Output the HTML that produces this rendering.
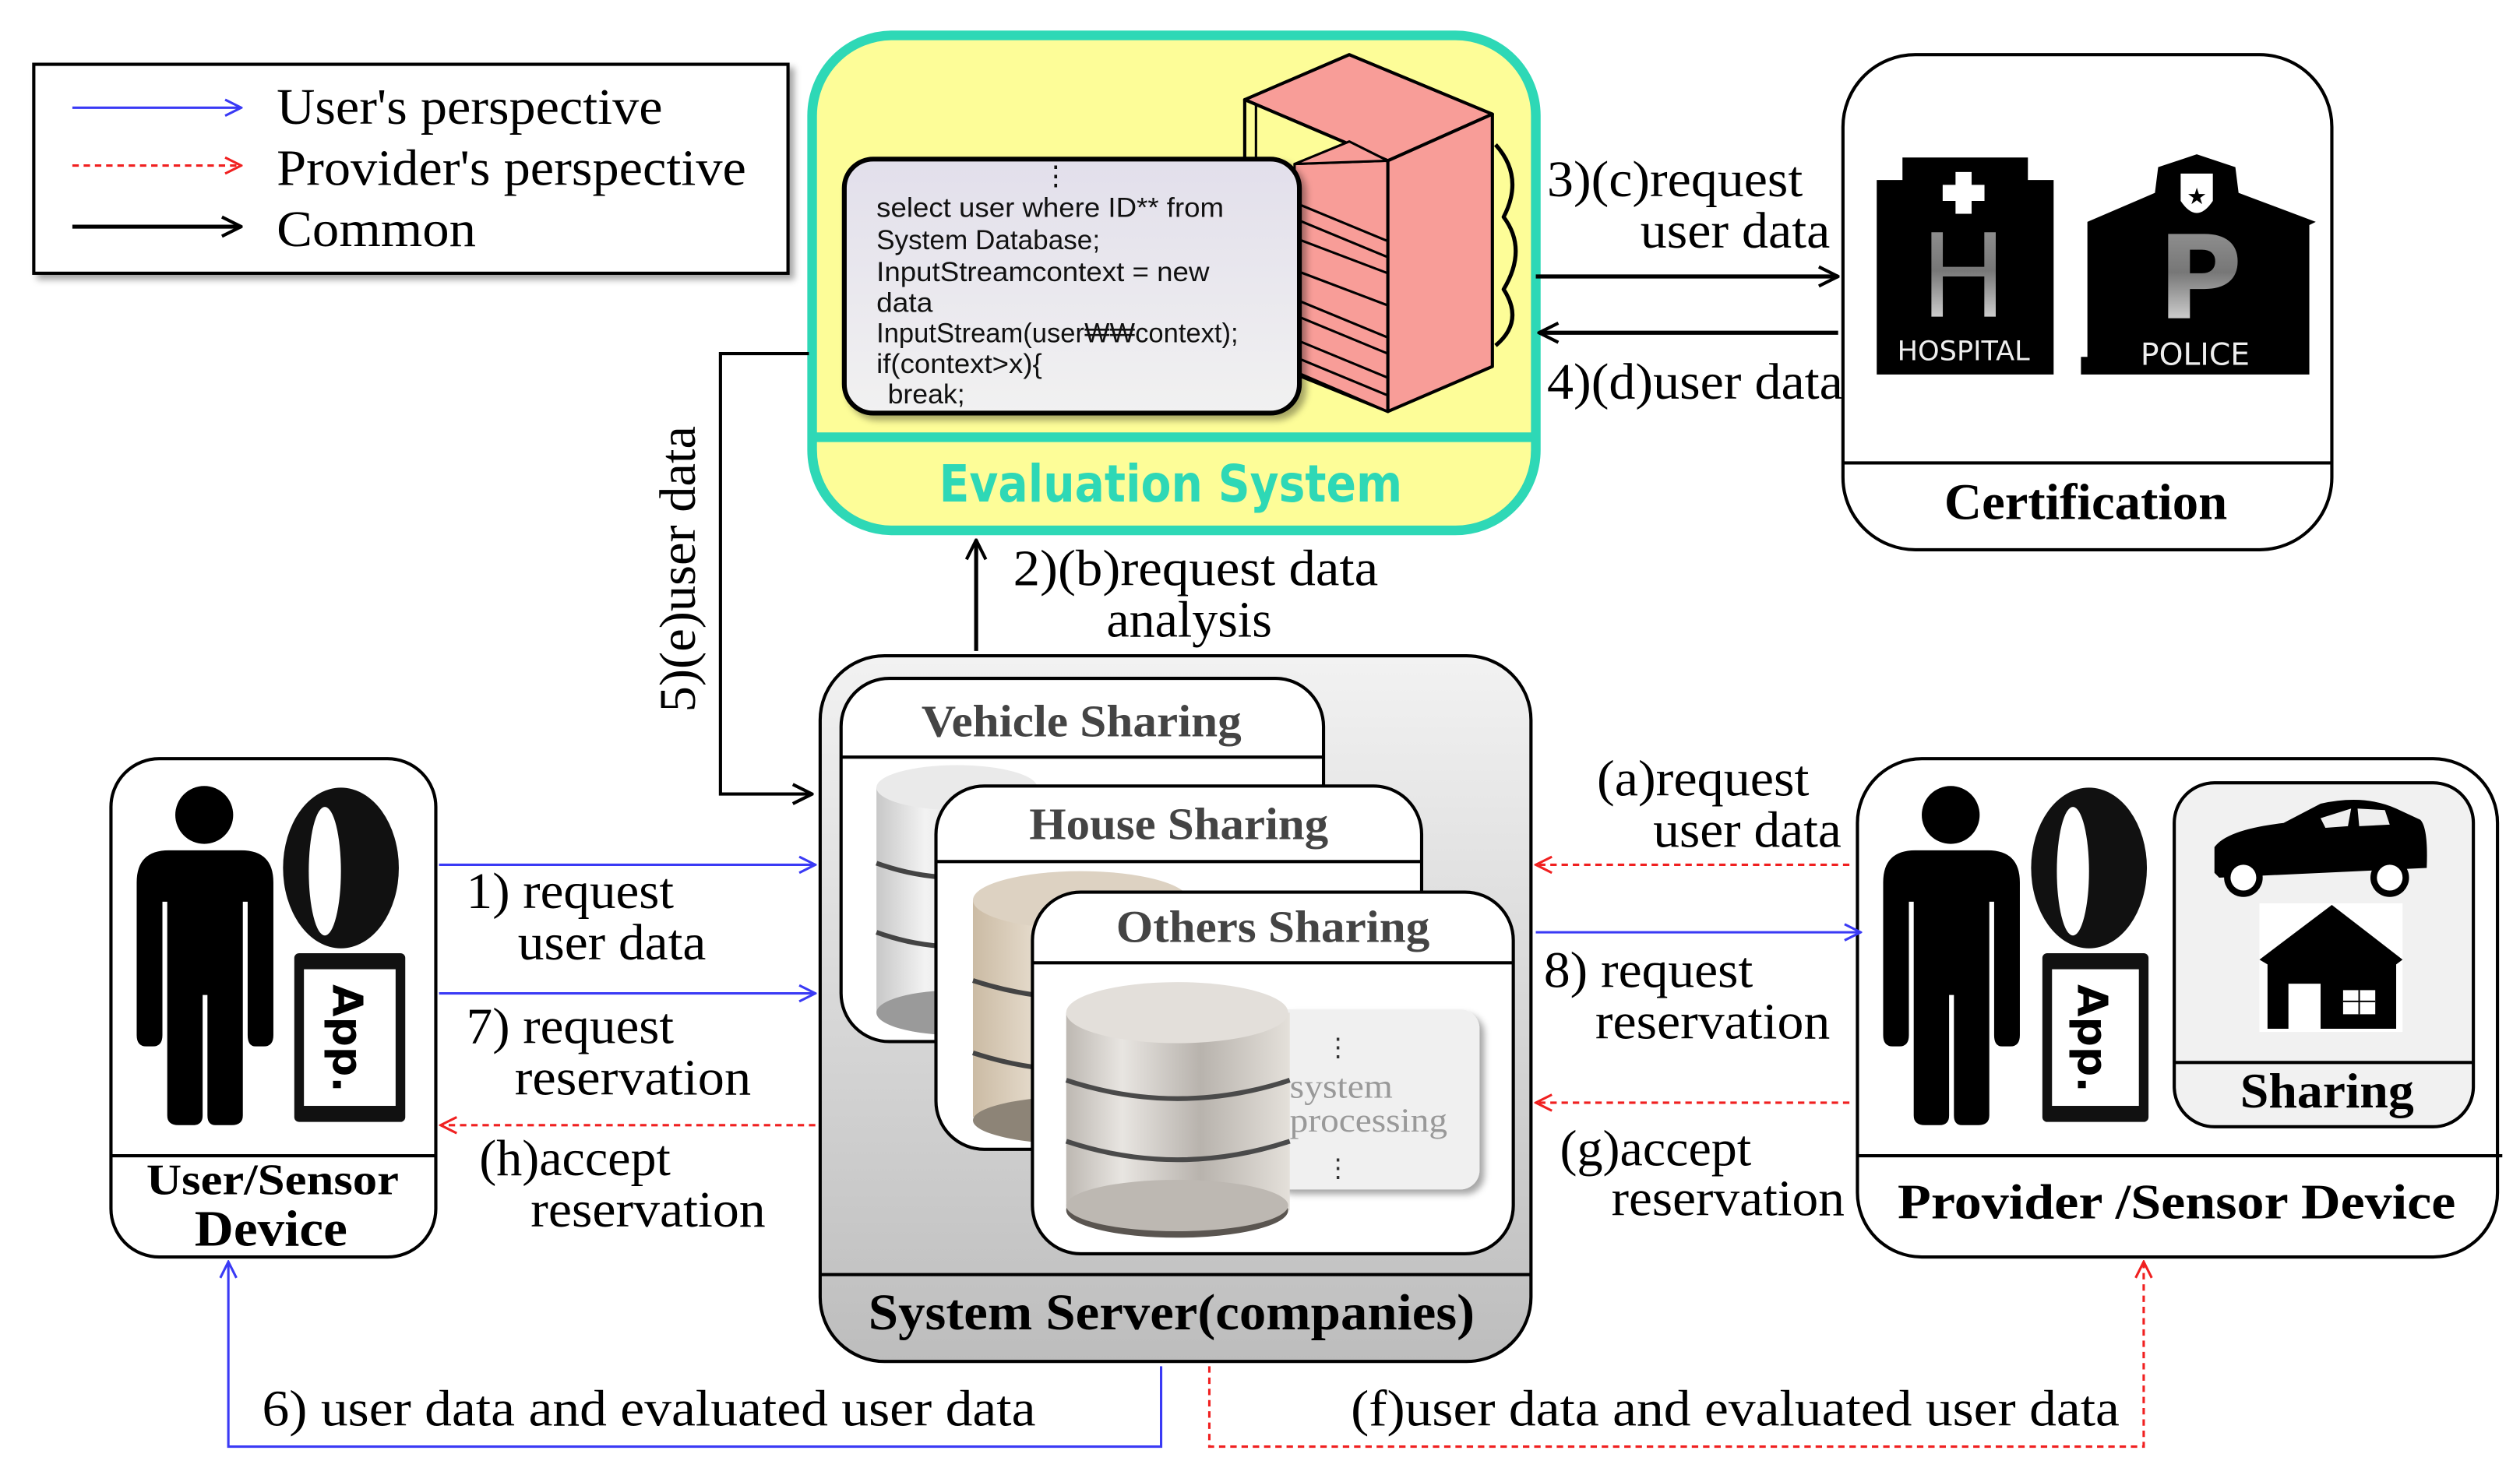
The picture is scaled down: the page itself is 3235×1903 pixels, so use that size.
<!DOCTYPE html>
<html><head><meta charset="utf-8"><style>html,body{margin:0;padding:0;background:#fff}svg{display:block}</style></head>
<body>
<svg width="3235" height="1903" viewBox="0 0 1567 922" preserveAspectRatio="none" xmlns="http://www.w3.org/2000/svg">
<defs>
<marker id="ab" viewBox="0 0 12 12" refX="11" refY="6" markerWidth="12" markerHeight="12" markerUnits="userSpaceOnUse" orient="auto"><path d="M1,1 L11,6 L1,11" fill="none" stroke="#3a3af5" stroke-width="1.5"/></marker>
<marker id="ar" viewBox="0 0 12 12" refX="11" refY="6" markerWidth="12" markerHeight="12" markerUnits="userSpaceOnUse" orient="auto"><path d="M1,1 L11,6 L1,11" fill="none" stroke="#f02020" stroke-width="1.5"/></marker>
<marker id="ak" viewBox="0 0 14 14" refX="13" refY="7" markerWidth="14" markerHeight="14" markerUnits="userSpaceOnUse" orient="auto"><path d="M1,1 L13,7 L1,13" fill="none" stroke="#000" stroke-width="2"/></marker>
<linearGradient id="srv" x1="0" y1="0" x2="0" y2="1"><stop offset="0" stop-color="#f2f2f2"/><stop offset="1" stop-color="#bdbdbd"/></linearGradient>
<linearGradient id="code" x1="0" y1="0" x2="0" y2="1"><stop offset="0" stop-color="#e2dfeb"/><stop offset="1" stop-color="#f1f1f1"/></linearGradient>
<linearGradient id="cylG" x1="0" y1="0" x2="1" y2="0"><stop offset="0" stop-color="#bdb8b2"/><stop offset="0.25" stop-color="#e8e5e1"/><stop offset="0.6" stop-color="#b8b3ad"/><stop offset="1" stop-color="#e4e0da"/></linearGradient>
<linearGradient id="cylW" x1="0" y1="0" x2="1" y2="0"><stop offset="0" stop-color="#c8c8c8"/><stop offset="0.3" stop-color="#f2f2f2"/><stop offset="1" stop-color="#d5d5d5"/></linearGradient>
<linearGradient id="cylT" x1="0" y1="0" x2="1" y2="0"><stop offset="0" stop-color="#cbbba4"/><stop offset="0.3" stop-color="#e6dccd"/><stop offset="1" stop-color="#cfc1ad"/></linearGradient>
<linearGradient id="silver" x1="0" y1="0" x2="0" y2="1"><stop offset="0" stop-color="#9a9a9a"/><stop offset="0.45" stop-color="#777"/><stop offset="1" stop-color="#fff"/></linearGradient>
<filter id="sh"><feDropShadow dx="3" dy="3" stdDeviation="2" flood-color="#000" flood-opacity="0.35"/></filter>
</defs>

<!-- Legend -->
<rect x="21" y="40" width="469" height="130" fill="#fff" stroke="#000" stroke-width="2" filter="url(#sh)"/>
<line x1="45" y1="67" x2="150" y2="67" stroke="#3a3af5" stroke-width="1.5" marker-end="url(#ab)"/>
<line x1="45" y1="103" x2="150" y2="103" stroke="#f02020" stroke-width="1.5" stroke-dasharray="4,3" marker-end="url(#ar)"/>
<line x1="45" y1="141" x2="150" y2="141" stroke="#000" stroke-width="2.5" marker-end="url(#ak)"/>
<g font-family="Liberation Serif, serif" font-size="32" fill="#000" lengthAdjust="spacingAndGlyphs">
<text x="172" y="77" textLength="240" lengthAdjust="spacingAndGlyphs">User's perspective</text>
<text x="172" y="115" textLength="292" lengthAdjust="spacingAndGlyphs">Provider's perspective</text>
<text x="172" y="153" textLength="124" lengthAdjust="spacingAndGlyphs">Common</text>
</g>

<!-- Evaluation system -->
<rect x="505" y="22" width="450" height="308" rx="50" fill="#fdfd98" stroke="#2ed8b6" stroke-width="6"/>
<line x1="506" y1="272" x2="954" y2="272" stroke="#2ed8b6" stroke-width="6"/>
<text x="584" y="312" textLength="288" lengthAdjust="spacingAndGlyphs" font-family="DejaVu Sans, Liberation Sans, sans-serif" font-weight="bold" font-size="32" fill="#2ed8b6">Evaluation System</text>
<!-- rack -->
<g stroke="#000" stroke-width="2" stroke-linejoin="round">
<polygon points="774,62 839,34 928,71 863,100" fill="#f89d98"/>
<polygon points="774,62 863,100 863,256 774,220" fill="#fdfd98"/>
<line x1="781" y1="65" x2="781" y2="230" stroke-width="1.5"/>
<polygon points="805,102 863,100 863,256 805,231" fill="#f89d98" stroke-width="1.5"/>
<polygon points="805,102 839,88 863,100" fill="#f89d98" stroke-width="1.5"/>
<polygon points="863,100 928,71 928,228 863,256" fill="#f89d98"/>
<g stroke-width="1.5"><line x1="805" y1="126" x2="863" y2="150"/><line x1="805" y1="136" x2="863" y2="160"/><line x1="805" y1="186" x2="863" y2="210"/><line x1="805" y1="196" x2="863" y2="220"/><line x1="805" y1="211" x2="863" y2="235"/><line x1="805" y1="222" x2="863" y2="246"/><line x1="805" y1="148" x2="863" y2="170"/><line x1="805" y1="168" x2="863" y2="190"/></g>
<path d="M930,90 Q948,110 935,135 Q950,155 935,180 Q948,200 930,215" fill="none" stroke-width="2.5"/>
</g>
<rect x="525" y="99" width="283" height="158" rx="18" fill="url(#code)" stroke="#000" stroke-width="3" filter="url(#sh)"/>
<g font-family="Liberation Sans, sans-serif" font-size="17" fill="#111">
<text x="648" y="115">⋮</text>
<text x="545" y="135" textLength="216" lengthAdjust="spacingAndGlyphs">select user where ID** from</text>
<text x="545" y="155" textLength="139" lengthAdjust="spacingAndGlyphs">System Database;</text>
<text x="545" y="175" textLength="207" lengthAdjust="spacingAndGlyphs">InputStreamcontext = new</text>
<text x="545" y="194" textLength="35" lengthAdjust="spacingAndGlyphs">data</text>
<text x="545" y="213" textLength="225" lengthAdjust="spacingAndGlyphs">InputStream(user₩₩context);</text>
<text x="545" y="232" textLength="103" lengthAdjust="spacingAndGlyphs">if(context&gt;x){</text>
<text x="552" y="251" textLength="48" lengthAdjust="spacingAndGlyphs">break;</text>
</g>

<!-- Certification -->
<rect x="1146" y="34" width="304" height="308" rx="45" fill="#fff" stroke="#000" stroke-width="2"/>
<line x1="1146" y1="288" x2="1450" y2="288" stroke="#000" stroke-width="2"/>
<text x="1209" y="323" textLength="176" lengthAdjust="spacingAndGlyphs" font-family="Liberation Serif, serif" font-weight="bold" font-size="32">Certification</text>
<path d="M1183,98 H1261 V112 H1277 V233 H1167 V112 H1183 Z" fill="#000"/>
<rect x="1216" y="107" width="10" height="26" fill="#fff"/><rect x="1208" y="115" width="26" height="10" fill="#fff"/>
<text x="1221" y="197" text-anchor="middle" font-family="DejaVu Sans, sans-serif" font-size="72" fill="url(#silver)">H</text>
<text x="1221" y="224" text-anchor="middle" font-family="DejaVu Sans, sans-serif" font-size="17" fill="#eee">HOSPITAL</text>
<path d="M1298,138 L1340,120 L1342,104 L1366,96 L1390,104 L1392,120 L1440,138 L1436,140 V222 H1436 V233 H1294 V222 H1298 Z" fill="#000"/>
<path d="M1356,108 L1376,108 L1376,125 Q1366,140 1356,125 Z" fill="#fff"/>
<text x="1366" y="127" text-anchor="middle" font-size="14" fill="#000">★</text>
<text x="1368" y="198" text-anchor="middle" font-family="DejaVu Sans, sans-serif" font-weight="bold" font-size="72" fill="url(#silver)">P</text>
<text x="1365" y="227" text-anchor="middle" font-family="DejaVu Sans, sans-serif" font-size="19" fill="#eee">POLICE</text>

<!-- arrows 3/4 -->
<line x1="955" y1="172" x2="1143" y2="172" stroke="#000" stroke-width="2.5" marker-end="url(#ak)"/>
<line x1="1143" y1="207" x2="957" y2="207" stroke="#000" stroke-width="2.5" marker-end="url(#ak)"/>
<g font-family="Liberation Serif, serif" font-size="32" fill="#000">
<text x="962" y="122" textLength="159" lengthAdjust="spacingAndGlyphs">3)(c)request</text>
<text x="1020" y="154" textLength="118" lengthAdjust="spacingAndGlyphs">user data</text>
<text x="962" y="248" textLength="184" lengthAdjust="spacingAndGlyphs">4)(d)user data</text>
<text x="630" y="364" textLength="227" lengthAdjust="spacingAndGlyphs">2)(b)request  data</text>
<text x="688" y="396" textLength="103" lengthAdjust="spacingAndGlyphs">analysis</text>
<text transform="translate(432,443) rotate(-90)" textLength="178" lengthAdjust="spacingAndGlyphs">5)(e)user data</text>
</g>
<line x1="607" y1="405" x2="607" y2="336" stroke="#000" stroke-width="2.5" marker-end="url(#ak)"/>
<polyline points="503,220 448,220 448,494 505,494" fill="none" stroke="#000" stroke-width="2" marker-end="url(#ak)"/>

<!-- System server -->
<rect x="510" y="408" width="442" height="439" rx="40" fill="url(#srv)" stroke="#000" stroke-width="2"/>
<line x1="510" y1="793" x2="952" y2="793" stroke="#000" stroke-width="2"/>
<text x="540" y="827" textLength="377" lengthAdjust="spacingAndGlyphs" font-family="Liberation Serif, serif" font-weight="bold" font-size="32">System Server(companies)</text>

<g font-family="Liberation Serif, serif" font-weight="bold" font-size="28" fill="#444">
<rect x="523" y="422" width="300" height="226" rx="30" fill="#fff" stroke="#000" stroke-width="2"/>
<line x1="523" y1="471" x2="823" y2="471" stroke="#000" stroke-width="2"/>
<text x="573" y="458" textLength="199" lengthAdjust="spacingAndGlyphs">Vehicle Sharing</text>
<rect x="545" y="490" width="100" height="140" fill="url(#cylW)"/>
<ellipse cx="595" cy="490" rx="50" ry="14" fill="#eaeaea"/>
<ellipse cx="595" cy="630" rx="50" ry="14" fill="#9a9a9a"/>
<path d="M545,537 Q595,555 645,537 M545,580 Q595,598 645,580" stroke="#444" stroke-width="3" fill="none"/>

<rect x="582" y="489" width="302" height="226" rx="30" fill="#fff" stroke="#000" stroke-width="2"/>
<line x1="582" y1="536" x2="884" y2="536" stroke="#000" stroke-width="2"/>
<text x="640" y="522" textLength="186" lengthAdjust="spacingAndGlyphs">House Sharing</text>
<rect x="605" y="560" width="135" height="135" fill="url(#cylT)"/>
<ellipse cx="672" cy="560" rx="67" ry="18" fill="#ddd2c2"/>
<ellipse cx="672" cy="697" rx="67" ry="15" fill="#8d8477"/>
<path d="M605,610 Q672,632 740,610 M605,655 Q672,677 740,655" stroke="#444" stroke-width="3" fill="none"/>

<rect x="642" y="555" width="299" height="225" rx="30" fill="#fff" stroke="#000" stroke-width="2"/>
<line x1="642" y1="599" x2="941" y2="599" stroke="#000" stroke-width="2"/>
<text x="694" y="586" textLength="195" lengthAdjust="spacingAndGlyphs">Others Sharing</text>
</g>
<rect x="790" y="628" width="130" height="112" rx="12" fill="#f0f0f0" filter="url(#sh)"/>
<g font-family="Liberation Serif, serif" font-size="21" fill="#999">
<text x="802" y="683" textLength="64" lengthAdjust="spacingAndGlyphs">system</text>
<text x="802" y="704" textLength="98" lengthAdjust="spacingAndGlyphs">processing</text>
</g>
<text x="824" y="657" font-family="Liberation Sans, sans-serif" font-size="16" fill="#333">⋮</text>
<text x="824" y="732" font-family="Liberation Sans, sans-serif" font-size="16" fill="#333">⋮</text>
<rect x="663" y="630" width="139" height="123" fill="url(#cylG)"/>
<ellipse cx="732" cy="630" rx="69" ry="19" fill="#e3dfda"/>
<ellipse cx="732" cy="753" rx="69" ry="17" fill="#5a5550"/>
<ellipse cx="732" cy="750" rx="69" ry="16" fill="#bdb8b2"/>
<path d="M663,672 Q732,695 802,672 M663,710 Q732,733 802,710" stroke="#4a4a4a" stroke-width="3" fill="none"/>

<!-- User device -->
<rect x="69" y="472" width="202" height="310" rx="30" fill="#fff" stroke="#000" stroke-width="2"/>
<line x1="69" y1="719" x2="271" y2="719" stroke="#000" stroke-width="2"/>
<g font-family="Liberation Serif, serif" font-weight="bold" fill="#000">
<text x="91" y="743" font-size="27" textLength="157" lengthAdjust="spacingAndGlyphs">User/Sensor</text>
<text x="121" y="775" font-size="32" textLength="95" lengthAdjust="spacingAndGlyphs">Device</text>
</g>
<g transform="translate(85,489)">
<circle cx="42" cy="18" r="18"/>
<path d="M0,155 L0,60 Q0,40 20,40 L65,40 Q85,40 85,60 L85,155 Q85,162 79,162 L74,162 Q69,162 69,155 L69,72 L66,72 L66,205 Q66,211 59,211 L49,211 Q44,211 44,205 L44,130 L41,130 L41,205 Q41,211 35,211 L26,211 Q19,211 19,205 L19,72 L16,72 L16,155 Q16,162 10,162 L6,162 Q0,162 0,155 Z"/>
</g>
<ellipse cx="212" cy="540" rx="36" ry="50" fill="#111"/><ellipse cx="202" cy="542" rx="10" ry="40" fill="#fff"/>
<rect x="183" y="593" width="69" height="105" rx="3" fill="#111"/><rect x="189" y="603" width="57" height="85" fill="#fff"/>
<text transform="translate(207,646) rotate(90)" text-anchor="middle" font-family="DejaVu Sans, sans-serif" font-weight="bold" font-size="26">App.</text>

<!-- Provider device -->
<rect x="1155" y="472" width="398" height="310" rx="40" fill="#fff" stroke="#000" stroke-width="2"/>
<line x1="1155" y1="719" x2="1556" y2="719" stroke="#000" stroke-width="2"/>
<text x="1180" y="758" textLength="347" lengthAdjust="spacingAndGlyphs" font-family="Liberation Serif, serif" font-weight="bold" font-size="31">Provider /Sensor Device</text>
<g transform="translate(1171,489)">
<circle cx="42" cy="18" r="18"/>
<path d="M0,155 L0,60 Q0,40 20,40 L65,40 Q85,40 85,60 L85,155 Q85,162 79,162 L74,162 Q69,162 69,155 L69,72 L66,72 L66,205 Q66,211 59,211 L49,211 Q44,211 44,205 L44,130 L41,130 L41,205 Q41,211 35,211 L26,211 Q19,211 19,205 L19,72 L16,72 L16,155 Q16,162 10,162 L6,162 Q0,162 0,155 Z"/>
</g>
<ellipse cx="1299" cy="540" rx="36" ry="50" fill="#111"/><ellipse cx="1289" cy="542" rx="10" ry="40" fill="#fff"/>
<rect x="1270" y="593" width="66" height="105" rx="3" fill="#111"/><rect x="1276" y="603" width="54" height="85" fill="#fff"/>
<text transform="translate(1292,646) rotate(90)" text-anchor="middle" font-family="DejaVu Sans, sans-serif" font-weight="bold" font-size="26">App.</text>
<rect x="1352" y="487" width="186" height="214" rx="25" fill="#f1f1f1" stroke="#000" stroke-width="2"/>
<line x1="1352" y1="661" x2="1538" y2="661" stroke="#000" stroke-width="2"/>
<text x="1393" y="689" textLength="108" lengthAdjust="spacingAndGlyphs" font-family="Liberation Serif, serif" font-weight="bold" font-size="31">Sharing</text>
<path d="M1377,543 L1377,527 Q1385,516 1420,512 L1443,500 Q1470,494 1490,503 L1505,510 Q1510,515 1509,540 L1380,546 Z" fill="#000"/>
<path d="M1443,509 L1462,503 L1460,514 L1446,515 Z M1466,503 L1483,504 L1486,513 L1467,514 Z" fill="#eee"/>
<circle cx="1395" cy="546" r="12" fill="#000"/><circle cx="1395" cy="546" r="8" fill="#fff"/>
<circle cx="1486" cy="546" r="12" fill="#000"/><circle cx="1486" cy="546" r="8" fill="#fff"/>
<rect x="1405" y="562" width="89" height="80" fill="#fff"/>
<path d="M1405,597 L1450,563 L1494,597 L1490,600 V640 H1410 V600 Z" fill="#000"/>
<rect x="1423" y="612" width="20" height="30" fill="#fff"/>
<rect x="1457" y="616" width="20" height="15" fill="#fff"/>
<line x1="1467" y1="616" x2="1467" y2="631" stroke="#000"/><line x1="1457" y1="623" x2="1477" y2="623" stroke="#000"/>

<!-- left arrows -->
<line x1="273" y1="538" x2="507" y2="538" stroke="#3a3af5" stroke-width="1.5" marker-end="url(#ab)"/>
<line x1="273" y1="618" x2="507" y2="618" stroke="#3a3af5" stroke-width="1.5" marker-end="url(#ab)"/>
<line x1="507" y1="700" x2="274" y2="700" stroke="#f02020" stroke-width="1.5" stroke-dasharray="4,3" marker-end="url(#ar)"/>
<!-- right arrows -->
<line x1="1150" y1="538" x2="955" y2="538" stroke="#f02020" stroke-width="1.5" stroke-dasharray="4,3" marker-end="url(#ar)"/>
<line x1="955" y1="580" x2="1157" y2="580" stroke="#3a3af5" stroke-width="1.5" marker-end="url(#ab)"/>
<line x1="1150" y1="686" x2="955" y2="686" stroke="#f02020" stroke-width="1.5" stroke-dasharray="4,3" marker-end="url(#ar)"/>
<!-- bottom -->
<polyline points="722,850 722,900 142,900 142,785" fill="none" stroke="#3a3af5" stroke-width="1.5" marker-end="url(#ab)"/>
<polyline points="752,850 752,900 1333,900 1333,785" fill="none" stroke="#f02020" stroke-width="1.5" stroke-dasharray="4,3" marker-end="url(#ar)"/>

<g font-family="Liberation Serif, serif" font-size="32" fill="#000">
<text x="290" y="565" textLength="129" lengthAdjust="spacingAndGlyphs">1) request</text>
<text x="322" y="597" textLength="117" lengthAdjust="spacingAndGlyphs">user data</text>
<text x="290" y="649" textLength="129" lengthAdjust="spacingAndGlyphs">7) request</text>
<text x="320" y="681" textLength="147" lengthAdjust="spacingAndGlyphs">reservation</text>
<text x="298" y="731" textLength="119" lengthAdjust="spacingAndGlyphs">(h)accept</text>
<text x="330" y="763" textLength="146" lengthAdjust="spacingAndGlyphs">reservation</text>
<text x="993" y="495" textLength="132" lengthAdjust="spacingAndGlyphs">(a)request</text>
<text x="1028" y="527" textLength="117" lengthAdjust="spacingAndGlyphs">user data</text>
<text x="960" y="614" textLength="130" lengthAdjust="spacingAndGlyphs">8) request</text>
<text x="992" y="646" textLength="146" lengthAdjust="spacingAndGlyphs">reservation</text>
<text x="970" y="725" textLength="119" lengthAdjust="spacingAndGlyphs">(g)accept</text>
<text x="1002" y="756" textLength="145" lengthAdjust="spacingAndGlyphs">reservation</text>
<text x="163" y="887" textLength="481" lengthAdjust="spacingAndGlyphs">6) user data and evaluated user data</text>
<text x="840" y="887" textLength="478" lengthAdjust="spacingAndGlyphs">(f)user data and evaluated user data</text>
</g>
</svg>
</body></html>
